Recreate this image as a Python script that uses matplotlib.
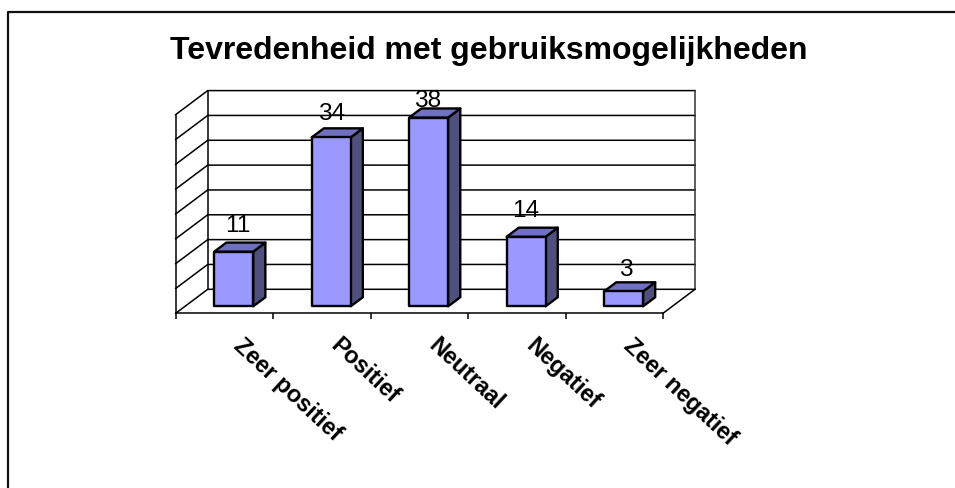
import numpy as np
import matplotlib
matplotlib.use("Agg")
import matplotlib.pyplot as plt
from matplotlib.patches import Polygon
from matplotlib.lines import Line2D

plt.rcParams['font.family'] = ['Liberation Sans', 'DejaVu Sans']

categories = ["Zeer positief", "Positief", "Neutraal", "Negatief", "Zeer negatief"]
values = [11, 34, 38, 14, 3]
y_ticks = [0, 5, 10, 15, 20, 25, 30, 35, 40]
title = "Tevredenheid met gebruiksmogelijkheden"

# small nudges for the value labels, in pixels
label_dx = [4, 0, -1, 0, 2]
label_dy = [21, 18, 12, 21, 16]

W, H = 955, 489
fig = plt.figure(figsize=(W / 100, H / 100), dpi=100)

# outer frame: only left and top are inside the picture
fig.add_artist(Line2D([7.5 / W, 7.5 / W, 1], [0, 1 - 12.5 / H, 1 - 12.5 / H], color="#111111", lw=1.6))

left, right, bottom, top = 175.7, 663.0, 314.3, 115.6
ax = fig.add_axes([left / W, 1 - bottom / H, (right - left) / W, (bottom - top) / H])
ax.set_xlim(0, 5)
ax.set_ylim(0, 40)
ax.patch.set_alpha(0)

# depth of the fake 3d box converted to data units
px_x = 5 / (right - left)
px_y = 40 / (bottom - top)
depth_x = 32 * px_x
depth_y = 24 * px_y


def proj(x, y, d):
    return (x + d * depth_x, y + d * depth_y)


def face(points, color, z, lw=1.7):
    ax.add_patch(Polygon(points, closed=True, facecolor=color, edgecolor="black", lw=lw,
                         joinstyle="round", zorder=z, clip_on=False))


# gridlines on the back wall and left wall
for t in y_ticks:
    ax.plot(*zip(proj(0, t, 0), proj(0, t, 1), proj(5, t, 1)), color="black", lw=1.1, zorder=1,
            clip_on=False, solid_joinstyle="miter")
ax.plot(*zip(proj(0, 0, 1), proj(0, 40, 1)), color="black", lw=1.1, zorder=1, clip_on=False)
ax.plot(*zip(proj(5, 0, 1), proj(5, 40, 1)), color="#333333", lw=1.1, zorder=1, clip_on=False)
ax.plot(*zip(proj(5, 0, 0), proj(5, 0, 1)), color="black", lw=1.1, zorder=1, clip_on=False)

# bars
d0, d1 = 0.29, 0.67
for i, v in enumerate(values):
    x0 = i + 0.5 - 0.2
    x1 = i + 0.5 + 0.2
    face([proj(x0, 0, d0), proj(x1, 0, d0), proj(x1, v, d0), proj(x0, v, d0)], "#9999FF", 4)
    face([proj(x1, 0, d0), proj(x1, 0, d1), proj(x1, v, d1), proj(x1, v, d0)], "#50507F", 3)
    face([proj(x0, v, d0), proj(x1, v, d0), proj(x1, v, d1), proj(x0, v, d1)], "#7070C0", 3)
    lx, ly = proj(i + 0.5, v, d0)
    ax.annotate(str(v), (lx, ly), xytext=(label_dx[i], label_dy[i]), textcoords="offset pixels",
                ha="center", va="baseline", fontsize=17.6, color="black", zorder=6,
                annotation_clip=False)

for s in ["top", "right"]:
    ax.spines[s].set_visible(False)
ax.spines["left"].set_linewidth(1.1)
ax.spines["bottom"].set_linewidth(1.1)
ax.set_yticks([])
ax.set_xticks(np.arange(6))
ax.set_xticklabels([])
ax.tick_params(axis="x", length=4, width=1.1, color="black")

for i, c in enumerate(categories):
    ax.annotate(c, (i + 0.5, 0), xytext=(20, -20), textcoords="offset pixels", rotation=-43,
                rotation_mode="anchor", ha="left", va="top", fontsize=16.8, fontweight="bold",
                color="black", annotation_clip=False)

fig.text(489 / W, 1 - 59 / H, title, ha="center", va="baseline", fontsize=23, fontweight="bold", color="black")

fig.savefig("out.png", dpi=100)
